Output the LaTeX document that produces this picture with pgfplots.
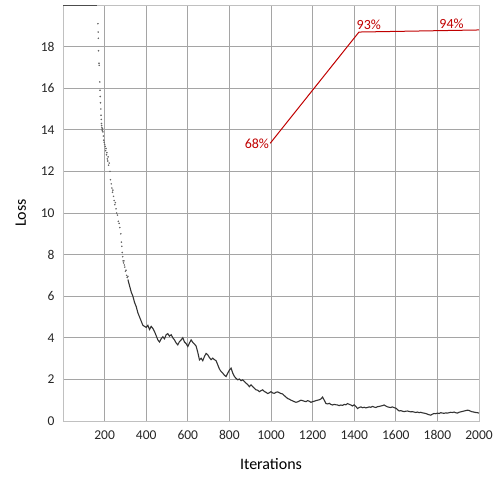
\documentclass[border=0pt]{standalone}
\usepackage{pgfplots}
\pgfplotsset{compat=1.18}
\usepackage{fontspec}
\setmainfont{Carlito}
\definecolor{accred}{RGB}{192,0,0}
\definecolor{gridgray}{RGB}{165,165,165}
\begin{document}
\begin{tikzpicture}
\begin{axis}[
  scale only axis,
  width=416pt, height=416pt,
  xmin=0, xmax=2000, ymin=0, ymax=20,
  xtick={200,400,...,2000},
  ytick={0,2,...,18},
  extra x ticks={0}, extra x tick labels={},
  extra y ticks={20}, extra y tick labels={},
  extra tick style={grid=none},
  grid=major,
  major grid style={draw=gridgray, line width=0.8pt},
  axis line style={draw=gridgray!70, line width=0.8pt},
  tick style={draw=none},
  /pgf/number format/assume math mode=true,
  /pgf/number format/1000 sep={},
  tick label style={font=\fontsize{13.5}{15}\selectfont, text=black!85},
  xticklabel style={yshift=-6pt},
  yticklabel style={xshift=-5pt},
  xlabel={Iterations}, ylabel={Loss},
  label style={font=\fontsize{16}{19}\selectfont},
  xlabel style={yshift=-12pt},
  ylabel style={yshift=8pt},
  clip=true,
]
% clipped early part (values at the top of the scale)
\addplot[draw=black!70, line width=1.2pt] coordinates {(0,20) (80,20) (165,20)};
% steep part, scattered points
\addplot[only marks, mark=*, mark size=0.55pt, draw=black!60, fill=black!60] coordinates {
(168,19.1) (169,18.7) (170,18.4) (171,17.8) (173,17.2) (174,17.1) (177,16.3) (178,15.9) (179,15.6) (180,15.3)
(182,15.0) (183,14.7) (184,14.5) (185,14.3) (186,14.2) (187,14.1) (188,14.0) (189,13.95) (190,14.05) (192,13.9)
(194,13.7) (196,13.5) (198,13.4) (200,13.3) (203,13.2) (205,13.0) (207,13.1) (209,12.8) (211,12.9) (213,12.6)
(215,12.5) (217,12.7) (219,12.3) (222,12.4) (226,12.0) (228,11.6) (232,11.4) (235,11.2) (238,11.0) (240,11.1)
(243,10.8) (246,10.6) (249,10.4) (252,10.5) (255,10.2) (258,10.0) (262,9.9) (266,9.6) (270,9.5) (273,9.3)
(278,9.0) (281,8.6) (283,8.4) (285,8.1) (287,7.9) (289,7.7) (291,7.6) (293,7.7) (295,7.5) (297,7.4)
(300,7.2) (303,7.25) (306,7.0) (309,6.9) (312,6.95)
};
% dense part
\addplot[draw=black!80, line width=1.1pt] coordinates {
(312,6.8) (320,6.5) (328,6.2)
(336,6.0) (344,5.7) (352,5.5) (360,5.2) (368,5.0) (376,4.8) (384,4.6) (392,4.55) (400,4.5) (408,4.6) (416,4.4)
(424,4.55) (432,4.45) (440,4.3) (448,4.1) (456,3.9) (464,3.8) (472,3.95) (480,4.05) (488,3.95) (496,4.15) (504,4.2)
(512,4.08) (520,4.15) (528,4.0) (536,3.9) (544,3.75) (552,3.66) (560,3.82) (568,3.9) (576,4.0) (584,3.8) (592,3.72)
(600,3.58) (608,3.75) (616,3.9) (624,3.78) (632,3.7) (640,3.6) (648,3.3) (656,2.94) (664,3.02) (672,2.9) (680,3.1)
(688,3.25) (696,3.18) (704,3.05) (712,2.95) (720,3.02) (728,2.95) (736,2.9) (744,2.7) (752,2.5) (760,2.38) (768,2.3)
(776,2.2) (784,2.14) (792,2.3) (800,2.45) (808,2.54) (816,2.3) (824,2.14) (832,2.05) (840,1.98) (848,2.02) (856,1.94)
(864,1.98) (872,1.9) (880,1.82) (888,1.75) (896,1.65) (904,1.74) (912,1.65) (920,1.58) (928,1.5) (936,1.48) (944,1.41)
(952,1.46) (960,1.5) (968,1.42) (976,1.38) (984,1.32) (992,1.36) (1000,1.41) (1008,1.35) (1016,1.33) (1024,1.38)
(1032,1.40) (1040,1.36) (1048,1.32) (1056,1.3) (1064,1.22) (1072,1.15) (1080,1.08) (1088,1.05) (1096,1.0) (1104,0.97)
(1112,0.93) (1120,0.9) (1128,0.92) (1136,0.96) (1144,1.0) (1152,0.98) (1160,0.95) (1168,0.93) (1176,0.98) (1184,0.95)
(1192,0.9) (1200,0.93) (1208,0.95) (1216,0.98) (1224,1.0) (1232,1.02) (1240,1.06) (1248,1.15) (1256,1.0) (1264,0.84)
(1272,0.82) (1280,0.85) (1288,0.8) (1296,0.77) (1304,0.8) (1312,0.78) (1320,0.77) (1328,0.74) (1336,0.77) (1344,0.75)
(1352,0.8) (1360,0.78) (1368,0.84) (1376,0.8) (1384,0.77) (1392,0.72) (1400,0.78) (1408,0.7) (1416,0.6) (1424,0.65)
(1432,0.68) (1440,0.64) (1448,0.66) (1456,0.63) (1464,0.65) (1472,0.68) (1480,0.66) (1488,0.7) (1496,0.67) (1504,0.65)
(1512,0.69) (1520,0.7) (1528,0.72) (1536,0.74) (1544,0.77) (1552,0.72) (1560,0.68) (1568,0.66) (1576,0.65) (1584,0.68)
(1592,0.64) (1600,0.62) (1608,0.55) (1616,0.48) (1624,0.5) (1632,0.47) (1640,0.45) (1648,0.47) (1656,0.48) (1664,0.46)
(1672,0.44) (1680,0.45) (1688,0.43) (1696,0.41) (1704,0.43) (1712,0.4) (1720,0.42) (1728,0.39) (1736,0.38) (1744,0.36)
(1752,0.33) (1760,0.3) (1768,0.28) (1776,0.33) (1784,0.36) (1792,0.35) (1800,0.38) (1808,0.36) (1816,0.4) (1824,0.38)
(1832,0.37) (1840,0.39) (1848,0.38) (1856,0.4) (1864,0.42) (1872,0.41) (1880,0.43) (1888,0.4) (1896,0.38) (1904,0.42)
(1912,0.44) (1920,0.46) (1928,0.48) (1936,0.5) (1944,0.52) (1952,0.51) (1960,0.47) (1968,0.44) (1976,0.43) (1984,0.41)
(1992,0.4) (2000,0.38)
};
\addplot[draw=accred, line width=1pt] coordinates {(996,13.35) (1423,18.7) (2000,18.8)};
\node[anchor=east, text=accred, font=\fontsize{14}{16}\selectfont, inner sep=1pt] at (axis cs:996,13.35) {68\%};
\node[anchor=south, text=accred, font=\fontsize{14}{16}\selectfont, inner sep=2pt] at (axis cs:1470,18.72) {93\%};
\node[anchor=south, text=accred, font=\fontsize{14}{16}\selectfont, inner sep=2pt] at (axis cs:1868,18.78) {94\%};
\coordinate (sw) at (rel axis cs:0,0);
\coordinate (ne) at (rel axis cs:1,1);
\end{axis}
\path ([shift={(-63pt,-56pt)}]sw) rectangle ([shift={(18pt,5pt)}]ne);
\end{tikzpicture}
\end{document}
